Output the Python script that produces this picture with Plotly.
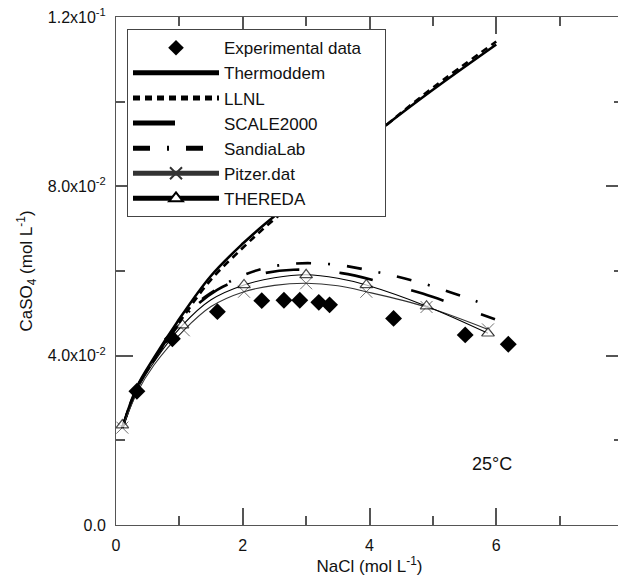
import plotly.graph_objects as go

# ---------------- data ----------------
nacl_exp = [0.33, 0.89, 1.60, 2.30, 2.65, 2.90, 3.20, 3.37, 4.38, 5.51, 6.19]
caso4_exp = [0.0316, 0.0440, 0.0504, 0.0530, 0.0531, 0.0531, 0.0526, 0.0520, 0.0488, 0.0449, 0.0427]

thermo_x = [0.10, 0.33, 0.60, 0.96, 1.49, 2.01, 2.35, 3.00, 4.25, 5.00, 6.00]
thermo_y = [0.0230, 0.0326, 0.0395, 0.0478, 0.0587, 0.0666, 0.0711, 0.0790, 0.0943, 0.1028, 0.1135]

llnl_x = [0.10, 0.33, 0.60, 0.96, 1.49, 2.01, 2.35, 3.00, 4.25, 5.00, 6.00]
llnl_y = [0.0230, 0.0324, 0.0390, 0.0470, 0.0578, 0.0656, 0.0703, 0.0785, 0.0943, 0.1033, 0.1142]

scale_x = [0.10, 0.33, 0.60, 1.00, 1.59, 2.20, 2.80, 3.56, 4.25, 4.85, 5.53, 5.98]
scale_y = [0.0230, 0.0320, 0.0390, 0.0478, 0.0555, 0.0590, 0.0603, 0.0595, 0.0571, 0.0546, 0.0510, 0.0486]

sandia_x = [0.10, 0.33, 0.60, 0.90, 1.25, 1.60, 1.96, 2.35, 2.78, 3.19, 3.62, 4.04, 4.43, 4.84, 5.25, 5.64, 5.80]
sandia_y = [0.0230, 0.0322, 0.0392, 0.0455, 0.0520, 0.0558, 0.0587, 0.0607, 0.0617, 0.0618, 0.0612,
            0.0600, 0.0587, 0.0571, 0.0551, 0.0531, 0.0522]

pitzer_x = [0.10, 0.33, 0.60, 1.07, 1.50, 2.02, 2.50, 3.00, 3.50, 3.95, 4.90, 5.87]
pitzer_y = [0.0230, 0.0312, 0.0378, 0.0460, 0.0516, 0.0551, 0.0566, 0.0571, 0.0565, 0.0551, 0.0515, 0.0462]
pitzer_marked = [1, 0, 0, 1, 0, 1, 0, 1, 0, 1, 1, 1]

thereda_x = [0.10, 0.33, 0.60, 1.05, 1.50, 2.02, 2.50, 3.00, 3.50, 3.95, 4.90, 5.87]
thereda_y = [0.0236, 0.0318, 0.0385, 0.0472, 0.0532, 0.0567, 0.0584, 0.0591, 0.0583, 0.0567, 0.0517, 0.0453]
thereda_marked = [1, 0, 0, 1, 0, 1, 0, 1, 0, 1, 1, 1]

y_tickvals = [0.0, 0.04, 0.08, 0.12]
y_ticktext = ["0.0", "4.0x10<sup>-2</sup>", "8.0x10<sup>-2</sup>", "1.2x10<sup>-1</sup>"]
y_minorvals = [0.02, 0.06, 0.10]
x_tickvals = [0, 2, 4, 6, 8]
x_minorvals = [1, 3, 5, 7]
x_range = [0, 8]
y_range = [0, 0.12]

FONT = "Liberation Sans, Arial, sans-serif"
AX = "#555555"
EXP_NAME = "Experimental data\u00a0\u00a0\u00a0\u00a0"

fig = go.Figure()


def legend_entry(name, rank, **style):
    """Legend-only sample (no data drawn), grouped with its series."""
    fig.add_trace(go.Scatter(x=[None], y=[None], name=name, legendgroup=name, legendrank=rank,
                             showlegend=True, **style))


legend_entry(EXP_NAME, 1, mode="markers", marker=dict(symbol="diamond", size=13, color="black"))
legend_entry("Thermoddem", 2, mode="lines", line=dict(color="black", width=2))
legend_entry("LLNL", 3, mode="lines", line=dict(color="black", width=2, dash="7px,5px"))
legend_entry("SCALE2000", 4, mode="lines", line=dict(color="black", width=2, dash="42px,200px"))
legend_entry("SandiaLab", 5, mode="lines", line=dict(color="black", width=2, dash="17px,17px,2px,17px"))
legend_entry("Pitzer.dat", 6, mode="lines+markers", line=dict(color="#333333", width=1),
             marker=dict(symbol="x-thin-open", size=12, line=dict(color="#555555", width=1)))
legend_entry("THEREDA", 7, mode="lines+markers", line=dict(color="black", width=1),
             marker=dict(symbol="triangle-up", size=11, color="white", line=dict(color="black", width=1.2)))

fig.add_trace(go.Scatter(x=thermo_x, y=thermo_y, mode="lines", legendgroup="Thermoddem", showlegend=False,
                         line=dict(color="black", width=2.6, shape="spline")))
fig.add_trace(go.Scatter(x=llnl_x, y=llnl_y, mode="lines", legendgroup="LLNL", showlegend=False,
                         line=dict(color="black", width=2.6, shape="spline", dash="7px,5px")))
fig.add_trace(go.Scatter(x=scale_x, y=scale_y, mode="lines", legendgroup="SCALE2000", showlegend=False,
                         line=dict(color="black", width=2.6, shape="spline", dash="34px,40px")))
fig.add_trace(go.Scatter(x=sandia_x, y=sandia_y, mode="lines", legendgroup="SandiaLab", showlegend=False,
                         line=dict(color="black", width=2.6, shape="spline", dash="15px,17px,2px,17px")))
fig.add_trace(go.Scatter(x=pitzer_x, y=pitzer_y, mode="lines+markers", legendgroup="Pitzer.dat",
                         showlegend=False,
                         line=dict(color="#333333", width=1.1, shape="spline"),
                         marker=dict(symbol="x-thin-open", size=[12 * m for m in pitzer_marked],
                                     line=dict(color="#555555", width=1))))
fig.add_trace(go.Scatter(x=thereda_x, y=thereda_y, mode="lines+markers", legendgroup="THEREDA",
                         showlegend=False,
                         line=dict(color="black", width=1.1, shape="spline"),
                         marker=dict(symbol="triangle-up", size=[11 * m for m in thereda_marked],
                                     color="white", line=dict(color="black", width=1.2))))
# experimental points on an overlaid tick-axis pair so they sit on top of the curves
fig.add_trace(go.Scatter(x=nacl_exp, y=caso4_exp, mode="markers", xaxis="x2", yaxis="y2",
                         legendgroup=EXP_NAME, showlegend=False,
                         marker=dict(symbol="diamond", size=13, color="black")))
# empty traces so the remaining tick-axis pairs are instantiated
for k in (3, 4):
    fig.add_trace(go.Scatter(x=[None], y=[None], xaxis=f"x{k}", yaxis=f"y{k}",
                             showlegend=False, hoverinfo="skip"))

fig.add_annotation(x=5.93, y=0.0145, text="25°C", showarrow=False,
                   font=dict(family=FONT, size=18, color="#111111"))

# inside ticks mirrored to the opposite edge; overlays on the other side supply the remaining edges
tick_style = dict(showgrid=False, zeroline=False, showline=True, linecolor=AX, linewidth=1,
                  mirror="ticks", ticks="inside", tickcolor=AX, tickwidth=2, tickmode="array")
overlay = dict(showticklabels=False, **tick_style)

# the page body adds an 8px offset, so the margins are reduced accordingly
fig.update_layout(
    width=618, height=573,
    margin=dict(l=108, r=3, t=9, b=56, autoexpand=False),
    paper_bgcolor="white", plot_bgcolor="white",
    font=dict(family=FONT, color="#111111"),
    xaxis=dict(range=x_range, tickvals=x_tickvals, ticklen=17,
               ticklabelstandoff=6, ticklabeloverflow="allow",
               tickfont=dict(family=FONT, size=16, color="#111111"),
               title=dict(text="NaCl (mol L<sup>-1</sup>)", font=dict(family=FONT, size=17), standoff=6),
               **tick_style),
    yaxis=dict(range=y_range, tickvals=y_tickvals, ticktext=y_ticktext, ticklen=17,
               ticklabelstandoff=6, ticklabeloverflow="allow",
               tickfont=dict(family=FONT, size=16, color="#111111"),
               title=dict(text="CaSO<sub>4</sub> (mol L<sup>-1</sup>)", font=dict(family=FONT, size=17),
                          standoff=10),
               **tick_style),
    xaxis2=dict(range=x_range, tickvals=x_tickvals, ticklen=17, overlaying="x", side="top", **overlay),
    xaxis3=dict(range=x_range, tickvals=x_minorvals, ticklen=9, overlaying="x", side="bottom", **overlay),
    xaxis4=dict(range=x_range, tickvals=x_minorvals, ticklen=9, overlaying="x", side="top", **overlay),
    yaxis2=dict(range=y_range, tickvals=y_tickvals, ticklen=17, overlaying="y", side="right", **overlay),
    yaxis3=dict(range=y_range, tickvals=y_minorvals, ticklen=9, overlaying="y", side="left", **overlay),
    yaxis4=dict(range=y_range, tickvals=y_minorvals, ticklen=9, overlaying="y", side="right", **overlay),
    legend=dict(x=0.0217, y=0.976, xanchor="left", yanchor="top",
                bgcolor="white", bordercolor="#444444", borderwidth=1,
                font=dict(family=FONT, size=17, color="#111111"),
                itemsizing="constant", itemwidth=86, tracegroupgap=0),
    showlegend=True,
)

fig.write_html("out.html")
